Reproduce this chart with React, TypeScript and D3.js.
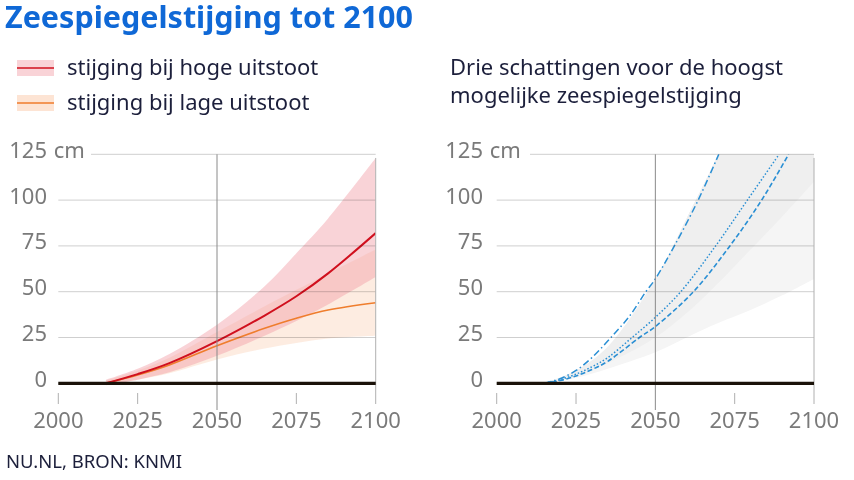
import React from "react";
import * as d3 from "d3";

const title = "Zeespiegelstijging tot 2100";
const legendLabels = ["stijging bij hoge uitstoot", "stijging bij lage uitstoot"];
const subtitleLines = ["Drie schattingen voor de hoogst", "mogelijke zeespiegelstijging"];
const source = "NU.NL, BRON: KNMI";

const xTicks = [2000, 2025, 2050, 2075, 2100];
const yTicks = [0, 25, 50, 75, 100, 125];

// Left chart (years + values in cm)
const leftYears = [2015, 2025, 2035, 2050, 2065, 2075, 2085, 2100];
const highLine = [0, 5, 11, 23, 37, 47.5, 60, 82];
const highUpper = [2, 8, 16, 32, 53, 71, 90, 123];
const highLower = [-1, 2, 6, 15, 26, 34, 43, 58];
const lowLine = [0, 4.5, 10, 20.5, 30, 35.5, 40, 44];
const lowUpper = [1.5, 7, 14, 28, 42, 51, 60, 73];
const lowLower = [-1, 2, 5.5, 13, 19, 22, 24.5, 26];

// Right chart: three estimates
const dashDotYears = [2015, 2020, 2025, 2030, 2036, 2042, 2047, 2050, 2056, 2063.5, 2070];
const dashDotVals = [0, 2.5, 7, 14, 25, 37, 50, 57, 75, 100, 125];
const dottedYears = [2015, 2020, 2025, 2030, 2035, 2042, 2050, 2058, 2069, 2079, 2089];
const dottedVals = [0, 2, 5, 9, 14, 24, 36, 50, 75, 100, 125];
const dashedYears = [2015, 2020, 2025, 2030, 2035, 2045, 2050, 2062, 2073.5, 2083.5, 2092];
const dashedVals = [0, 1.5, 4, 7.5, 12, 25, 31, 50, 75, 100, 125];

// Right chart grey ranges
const bandYears = [2015, 2025, 2035, 2050, 2061, 2070, 2080, 2090, 2100];
const bandOuterLower = [0, 3, 8, 17, 26, 33, 40, 48, 57];
const bandInnerLower = [0, 4, 11, 25, 40, 55, 73, 91, 110];
const bandUpper = [0, 7, 20, 57, 94, 126, 170, 215, 260];

const FONT = "'Noto Sans', 'Open Sans', sans-serif";
const TXT = "#1c1f3b";
const AXIS = "#7a7a7a";
const AX_FS = 22;

const y = d3.scaleLinear().domain([0, 125]).range([383.3, 154.3]);

function zip(years: number[], vals: number[]) {
  return years.map((yr, i) => [yr, vals[i]] as [number, number]);
}

function Panel({ x0, x1, gridStart125, labelRight, children, clipId }: any) {
  const x = d3.scaleLinear().domain([2000, 2100]).range([x0, x1]);
  return (
    <g>
      <defs>
        <clipPath id={clipId}>
          <rect x={x0} y={y(125)} width={x1 - x0} height={y(0) - y(125) + 4} />
        </clipPath>
      </defs>
      <g clipPath={`url(#${clipId})`}>{children(x)}</g>
      {yTicks.map((t) => (
        <line
          key={t}
          x1={t === 125 ? gridStart125 : x0}
          x2={x1}
          y1={y(t)}
          y2={y(t)}
          stroke="#cfcfcf"
          strokeWidth={1}
          style={{ mixBlendMode: "multiply" }}
        />
      ))}
      <line x1={x(2050)} x2={x(2050)} y1={y(125)} y2={410} stroke="#8a8a8a" strokeWidth={1} />
      <line x1={x(2100)} x2={x(2100)} y1={y(123)} y2={404} stroke="#b0b0b0" strokeWidth={1} />
      {[2000, 2025, 2075].map((t) => (
        <line key={t} x1={x(t)} x2={x(t)} y1={393} y2={404} stroke="#b0b0b0" strokeWidth={1} />
      ))}
      <line x1={x0} x2={x1} y1={y(0)} y2={y(0)} stroke="#1a1209" strokeWidth={3.2} />
      {yTicks.map((t) => (
        <text
          key={t}
          x={labelRight}
          y={y(t) + 3.5}
          textAnchor="end"
          fontFamily={FONT}
          fontSize={AX_FS}
          fill={AXIS}
        >
          {t}
        </text>
      ))}
      <text x={labelRight + 1} y={y(125) + 3.5} fontFamily={FONT} fontSize={AX_FS} fill={AXIS}>
        {"\u00a0cm"}
      </text>
      {xTicks.map((t) => (
        <text
          key={t}
          x={x(t)}
          y={428}
          textAnchor="middle"
          fontFamily={FONT}
          fontSize={AX_FS}
          fill={AXIS}
        >
          {t}
        </text>
      ))}
    </g>
  );
}

export default function App() {
  const curve = d3.curveCatmullRom.alpha(0.5);
  const leftContent = (x: any) => {
    const area = (lo: number[], hi: number[]) =>
      d3
        .area<number>()
        .x((_, i) => x(leftYears[i]))
        .y0((_, i) => y(lo[i]))
        .y1((_, i) => y(hi[i]))
        .curve(curve)(leftYears.map((_, i) => i)) || "";
    const line = (vals: number[]) =>
      d3
        .line<[number, number]>()
        .x((d) => x(d[0]))
        .y((d) => y(d[1]))
        .curve(curve)(zip(leftYears, vals)) || "";
    return (
      <g>
        <path d={area(lowLower, lowUpper)} fill="#fcdcc8" fillOpacity={0.55} />
        <path d={area(highLower, highUpper)} fill="#f29ea6" fillOpacity={0.45} />
        <path d={line(lowLine)} fill="none" stroke="#ef7d2d" strokeWidth={1.6} />
        <path d={line(highLine)} fill="none" stroke="#d0101e" strokeWidth={2} />
      </g>
    );
  };
  const rightContent = (x: any) => {
    const area = (lo: number[], hi: number[]) =>
      d3
        .area<number>()
        .x((_, i) => x(bandYears[i]))
        .y0((_, i) => y(lo[i]))
        .y1((_, i) => y(hi[i]))
        .curve(curve)(bandYears.map((_, i) => i)) || "";
    const line = (yrs: number[], vals: number[]) =>
      d3
        .line<[number, number]>()
        .x((d) => x(d[0]))
        .y((d) => y(d[1]))
        .curve(curve)(zip(yrs, vals)) || "";
    const blue = "#2a8fd4";
    return (
      <g>
        <path d={area(bandOuterLower, bandUpper)} fill="#f5f5f5" />
        <path d={area(bandInnerLower, bandUpper)} fill="#efefef" />
        <path
          d={line(dashDotYears, dashDotVals)}
          fill="none"
          stroke={blue}
          strokeWidth={1.5}
          strokeDasharray="7 3 1.5 3"
        />
        <path
          d={line(dottedYears, dottedVals)}
          fill="none"
          stroke={blue}
          strokeWidth={1.5}
          strokeDasharray="1.5 2"
        />
        <path
          d={line(dashedYears, dashedVals)}
          fill="none"
          stroke={blue}
          strokeWidth={1.6}
          strokeDasharray="5 2.5"
        />
      </g>
    );
  };

  return (
    <svg
      width={854}
      height={480}
      style={{ position: "absolute", left: 0, top: 0, background: "#fff" }}
    >
      <rect width={854} height={480} fill="#fff" />
      <text x={5} y={28} fontFamily={FONT} fontWeight={700} fontSize={30.5} fill="#0f68d6">
        {title}
      </text>
      {/* legend */}
      <rect x={17} y={60} width={37} height={16} fill="#f9d3d7" />
      <line x1={17} x2={54} y1={68} y2={68} stroke="#d0101e" strokeWidth={1.6} />
      <text x={67} y={75} fontFamily={FONT} fontSize={22} fill={TXT}>
        {legendLabels[0]}
      </text>
      <rect x={17} y={95} width={37} height={16} fill="#fde4d4" />
      <line x1={17} x2={54} y1={103} y2={103} stroke="#ef7d2d" strokeWidth={1.6} />
      <text x={67} y={110} fontFamily={FONT} fontSize={22} fill={TXT}>
        {legendLabels[1]}
      </text>
      {subtitleLines.map((s, i) => (
        <text key={i} x={450} y={75 + i * 28} fontFamily={FONT} fontSize={22} fill={TXT}>
          {s}
        </text>
      ))}
      <Panel x0={58.3} x1={375.7} gridStart125={91} labelRight={47} clipId="clipL">
        {leftContent}
      </Panel>
      <Panel x0={496.7} x1={814} gridStart125={530} labelRight={483} clipId="clipR">
        {rightContent}
      </Panel>
      <text x={6} y={468} fontFamily={FONT} fontSize={18.5} fill={TXT}>
        {source}
      </text>
    </svg>
  );
}
